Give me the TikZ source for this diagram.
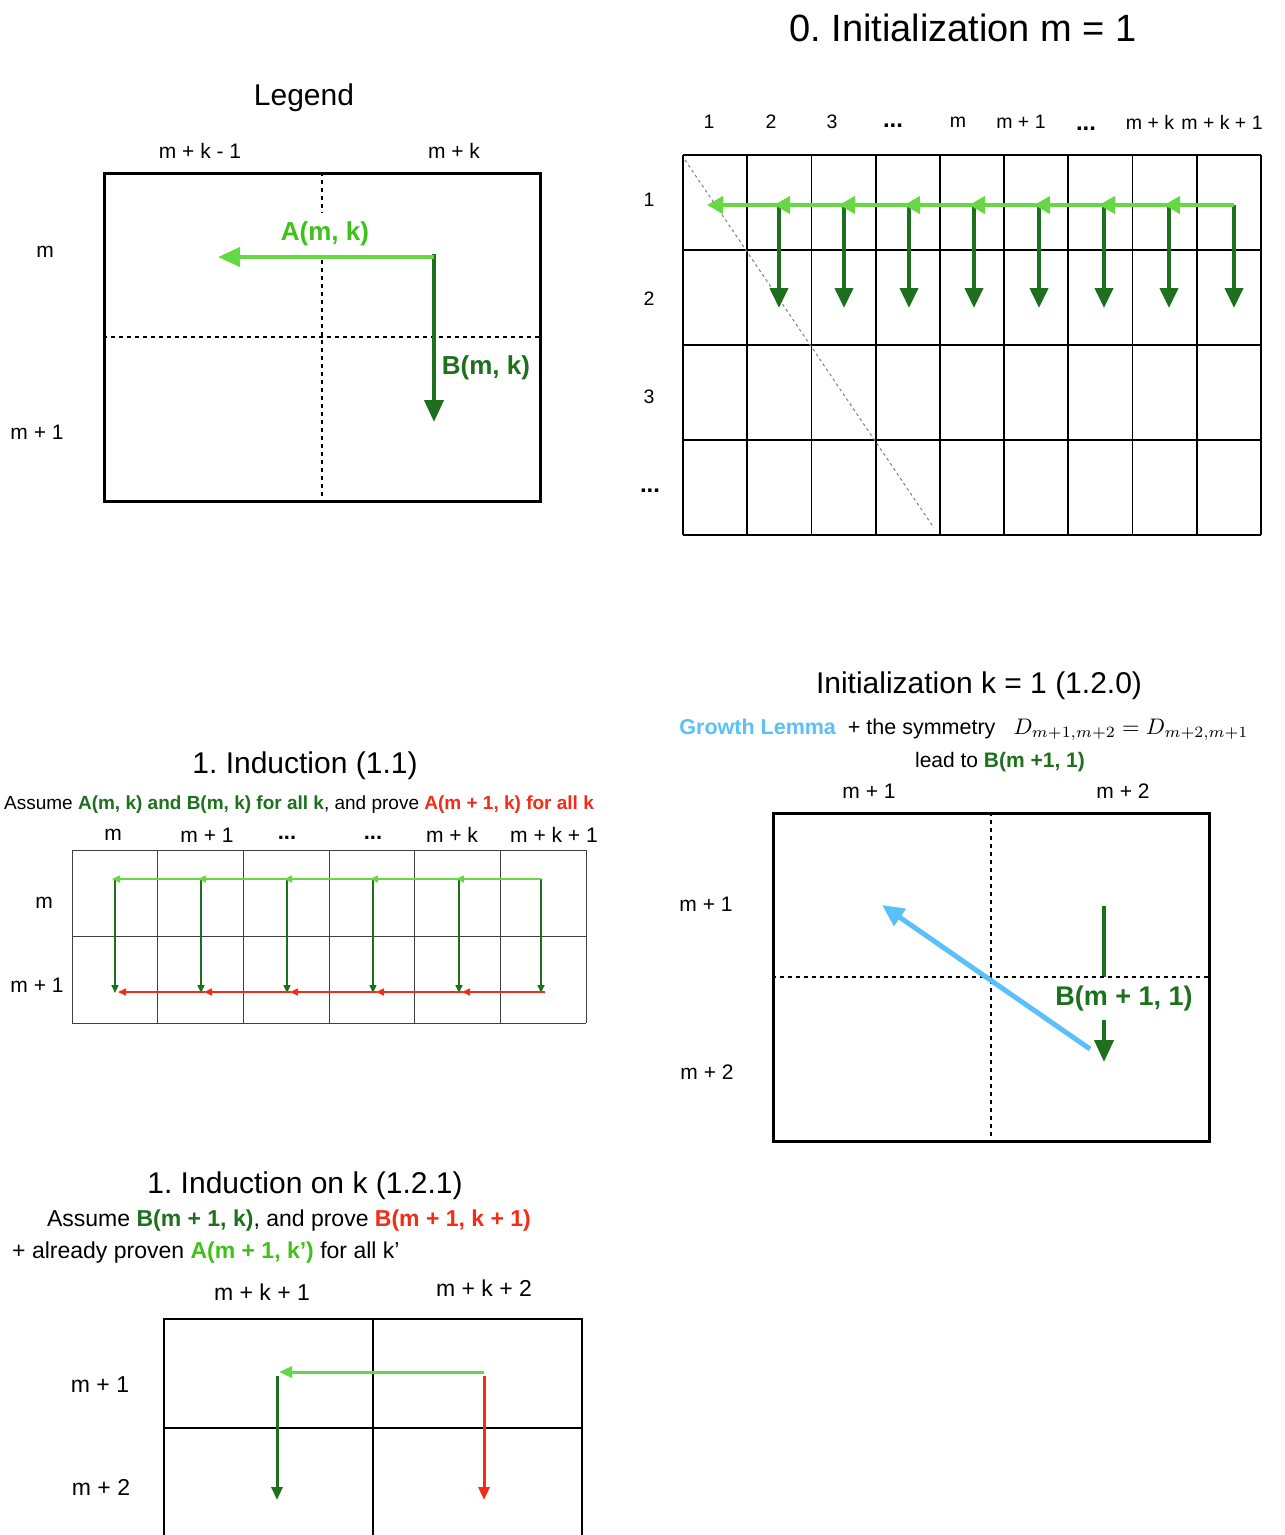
\documentclass[tikz,border=0pt]{standalone}
\usepackage[no-math]{fontspec}
\setmainfont{Liberation Sans}
\usepackage{graphicx}
\usepackage{tikz}
\usetikzlibrary{arrows.meta,positioning}
\definecolor{lgreen}{HTML}{66D843}
\definecolor{lgtext}{HTML}{3EC21A}
\definecolor{dgreen}{HTML}{1E701E}
\definecolor{cred}{HTML}{F42B15}
\definecolor{cblue}{HTML}{5BC0FA}
\newcommand{\pxfont}[1]{\fontsize{#1}{#1}\selectfont}
\frenchspacing
\begin{document}
\begin{tikzpicture}[x=1pt,y=-1pt,
  bigtitle/.style={font=\pxfont{38}},
  title/.style={font=\pxfont{30}},
  lbl/.style={font=\pxfont{#1},inner sep=0pt},
  lbl/.default=21,
  dots/.style={font=\pxfont{#1}\bfseries,inner sep=0pt},
  dots/.default=20,
  quadbox/.style={draw,line width=3pt,minimum width=436pt,minimum height=328pt,inner sep=0pt},
  dotline/.style={line width=2.5pt,dash pattern=on 4pt off 4pt},
  gridline/.style={line width=1.8pt},
  thingrid/.style={line width=1pt,black!75},
  arrowA/.style={lgreen,line width=4pt,-{Triangle[length=22pt,width=19pt]}},
  arrowB/.style={dgreen,line width=4pt,-{Triangle[length=22pt,width=19pt]}},
  gridL/.style={lgreen,line width=4pt,-{Triangle[length=16pt,width=17pt]}},
  gridD/.style={dgreen,line width=4pt,-{Triangle[length=20pt,width=18pt]}},
  thinL/.style={lgreen,line width=1.5pt,-{Triangle[length=8pt,width=7pt]}},
  thinD/.style={dgreen,line width=1.5pt,-{Triangle[length=8pt,width=7pt]}},
  thinR/.style={cred,line width=1.5pt,-{Triangle[length=8pt,width=7pt]}},
  midL/.style={lgreen,line width=3pt,-{Triangle[length=13pt,width=11pt]}},
  midD/.style={dgreen,line width=3pt,-{Triangle[length=13pt,width=11pt]}},
  midR/.style={cred,line width=3pt,-{Triangle[length=13pt,width=11pt]}},
  arrowU/.style={cblue,line width=5pt,-{Triangle[length=22pt,width=20pt]}}
]
\useasboundingbox (0,0) rectangle (1285,1535);

% legend
\node[title] (legT) at (304,98) {Legend};
\node[quadbox] (leg) at (322,337) {};
\draw[dotline] (leg.north) -- (leg.south);
\draw[dotline] (leg.west) -- (leg.east);
\node[lbl] (legc1) at (200,151) {m + k - 1};
\node[lbl] (legc2) at (454,151) {m + k};
\node[lbl] (legr1) at (45,252) {m};
\node[lbl] (legr2) at (37,432) {m + 1};
\node[font=\pxfont{26}\bfseries,text=lgtext,fill=white,minimum height=42pt] (labA) at (325,234) {A(m, k)};
\node[font=\pxfont{26}\bfseries,text=dgreen] (labB) at (486,368) {B(m, k)};
\coordinate (a0) at (434,257);
\coordinate (a1) at (218,257);
\coordinate (b0) at (434,254);
\coordinate (b1) at (434,422);
\draw[arrowB] (b0) -- (b1);
\draw[arrowA] (a0) -- (a1);

% 0. initialization
\node[bigtitle] (iniMT) at (963,28) {0. Initialization m = 1};
\foreach \i in {0,...,9} \draw[gridline] ({683+64.22*\i},155) -- ({683+64.22*\i},535);
\foreach \j in {0,...,4} \draw[gridline] (683,{155+95*\j}) -- (1261,{155+95*\j});
\draw[gray,line width=1pt,dash pattern=on 3pt off 3pt] (685,160) -- (934,528);
\foreach \x/\t [count=\n] in {709/1,771/2,832/3,958/m,1021/m + 1,1150/m + k,1222/m + k + 1}
  \node[lbl=19.5] (ic\n) at (\x,122) {\t};
\node[dots=24] (icd1) at (893,126) {...};
\node[dots=24] (icd2) at (1086,129) {...};
\foreach \y/\t [count=\n] in {200/1,299/2,397/3}
  \node[lbl=19.5] (ir\n) at (649,\y) {\t};
\node[dots=24] (ird) at (650,491) {...};
\foreach \i in {0,...,7} {
  \coordinate (d\i) at ({779+65*\i},205);
  \coordinate (e\i) at ({779+65*\i},308);
  \draw[gridD] (d\i) -- (e\i);
}
\coordinate (h0) at (707,205);
\draw[gridL] (d0) -- (h0);
\foreach \i [evaluate=\i as \p using int(\i-1)] in {1,...,7}
  \draw[gridL] (d\i) -- ([xshift=-5pt]d\p);

% 1. induction (1.1)
\node[title] (indT) at (305,766) {1. Induction (1.1)};
\node[font=\pxfont{19},inner sep=0pt] (indS) at (299,805) {Assume \textbf{\color{dgreen}A(m, k) and B(m, k) for all k}, and prove \textbf{\color{cred}A(m + 1, k) for all k}};
\foreach \i in {0,...,6} \draw[thingrid] ({72+85.67*\i},850) -- ({72+85.67*\i},1023);
\foreach \j in {0,1,2} \draw[thingrid] (72,{850+86.5*\j}) -- (586,{850+86.5*\j});
\foreach \x/\t [count=\n] in {113/m,207/m + 1,452/m + k,554/m + k + 1}
  \node[lbl] (jc\n) at (\x,835) {\t};
\node[dots=22] (jcd1) at (287,838) {...};
\node[dots=22] (jcd2) at (373,838) {...};
\node[lbl] (jr1) at (44,903) {m};
\node[lbl] (jr2) at (37,985) {m + 1};
\foreach \x [count=\n from 0] in {115,201,287,373,459,541} {
  \coordinate (p\n) at (\x,879);
  \coordinate (q\n) at (\x,993);
  \draw[thinD] (p\n) -- (q\n);
}
\foreach \i [evaluate=\i as \p using int(\i-1)] in {1,...,5} {
  \draw[thinL] (p\i) -- ([xshift=-3pt]p\p);
  \draw[thinR] ([xshift=4pt,yshift=1pt]q\i) -- ([xshift=3pt,yshift=1pt]q\p);
}

% initialization k = 1
\node[title] (iniT) at (979,686) {Initialization k = 1 (1.2.0)};
\node[font=\pxfont{21.5},inner sep=0pt] (iniS) at (964,730) {\textbf{\color{cblue}Growth Lemma}\ \ + the symmetry\ \ \ \scalebox{2.25}{\fontsize{10}{10}\selectfont$D_{m+1,m+2}=D_{m+2,m+1}$}};
\node[font=\pxfont{21},inner sep=0pt] (iniL) at (1000,762) {lead to \textbf{\color{dgreen}B(m +1, 1)}};
\node[lbl] (kc1) at (869,791) {m + 1};
\node[lbl] (kc2) at (1123,791) {m + 2};
\node[lbl] (kr1) at (706,904) {m + 1};
\node[lbl] (kr2) at (707,1072) {m + 2};
\node[quadbox] (ini) at (991,977) {};
\coordinate (g0) at (1104,906);
\coordinate (g1) at (1104,1062);
\draw[arrowB] (g0) -- (g1);
\node[font=\pxfont{27}\bfseries,text=dgreen,fill=white,minimum height=43pt,inner xsep=2pt] (labB1) at (1124,998.5) {B(m + 1, 1)};
\draw[dotline] (ini.north) -- (ini.south);
\draw[dotline] (ini.west) -- (ini.east);
\coordinate (u0) at (1090,1049);
\coordinate (u1) at (882,905);
\draw[arrowU] (u0) -- (u1);

% induction on k
\node[title] (kT) at (305,1186) {1. Induction on k (1.2.1)};
\node[font=\pxfont{23},inner sep=0pt] (kS1) at (289,1221) {Assume \textbf{\color{dgreen}B(m + 1, k)}, and prove \textbf{\color{cred}B(m + 1, k + 1)}};
\node[font=\pxfont{23},anchor=west,inner sep=0pt] (kS2) at (12,1253) {+ already proven \textbf{\color{lgtext}A(m + 1, k’)} for all k’};
\draw[gridline] (164,1535) -- (164,1319) -- (582,1319) -- (582,1535);
\draw[gridline] (373,1319) -- (373,1535);
\draw[gridline] (164,1428) -- (582,1428);
\node[lbl=23] (mc1) at (262,1292) {m + k + 1};
\node[lbl=23] (mc2) at (484,1288) {m + k + 2};
\node[lbl=23] (mr1) at (100,1385) {m + 1};
\node[lbl=23] (mr2) at (101,1487) {m + 2};
\coordinate (s0) at (484,1372);
\coordinate (s1) at (279,1372);
\coordinate (t0) at (277,1376);
\coordinate (t1) at (277,1500);
\coordinate (r0) at (484,1376);
\coordinate (r1) at (484,1500);
\draw[midL] (s0) -- (s1);
\draw[midD] (t0) -- (t1);
\draw[midR] (r0) -- (r1);
\end{tikzpicture}
\end{document}
